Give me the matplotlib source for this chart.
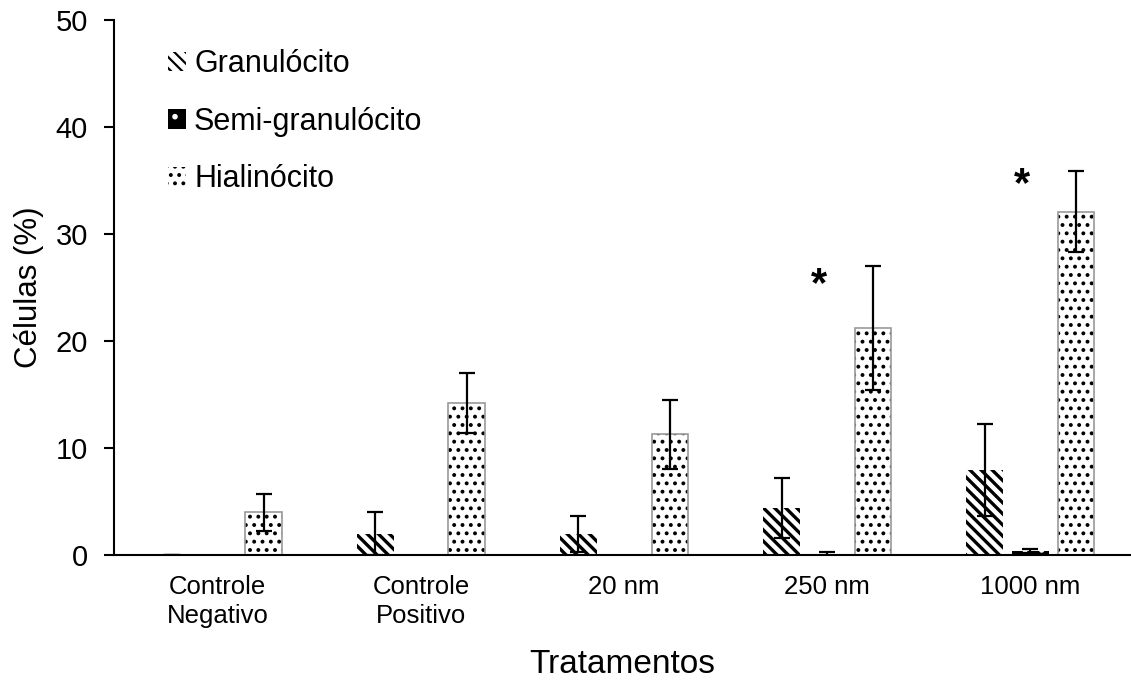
import numpy as np
import matplotlib.pyplot as plt

plt.rcParams['font.family'] = ['Liberation Sans', 'DejaVu Sans']

# Hemocyte percentages per treatment (mean and standard deviation)
tratamentos = ['Controle\nNegativo', 'Controle\nPositivo', '20 nm', '250 nm', '1000 nm']
granulocito = [0.0, 2.0, 2.0, 4.4, 8.0]
granulocito_sd = [0.0, 2.0, 1.7, 2.8, 4.3]
semi_granulocito = [0.0, 0.0, 0.0, 0.1, 0.4]
semi_granulocito_sd = [0.0, 0.0, 0.0, 0.2, 0.2]
hialinocito = [4.0, 14.2, 11.3, 21.2, 32.1]
hialinocito_sd = [1.7, 2.8, 3.2, 5.8, 3.8]
# groups marked as significant
significativo = [3, 4]
asterisco_y = [25.2, 34.6]

x = np.arange(len(tratamentos))
w = 0.18
off = 0.225

fig = plt.figure(figsize=(11.31, 6.83), dpi=100)
ax = fig.add_axes([0.101, 0.187, 0.898, 0.784])

err_kw = dict(ecolor='black', elinewidth=1.6, capsize=5.5, capthick=1.6)

# hatch line width is taken when each patch is created
plt.rcParams['hatch.linewidth'] = 2.4
b1 = ax.bar(x - off, granulocito, w, facecolor='white', edgecolor='black',
            hatch='\\\\\\', linewidth=0, label='Granulócito')
ax.errorbar(x - off, granulocito, yerr=granulocito_sd, fmt='none', **err_kw)

plt.rcParams['hatch.linewidth'] = 1.5
b2 = ax.bar(x, semi_granulocito, w, facecolor='black', edgecolor='white',
            hatch='.', linewidth=0, label='Semi-granulócito')
ax.errorbar(x[3:], semi_granulocito[3:], yerr=semi_granulocito_sd[3:], fmt='none', **err_kw)

plt.rcParams['hatch.linewidth'] = 1.6
b3 = ax.bar(x + off, hialinocito, w, facecolor='white', edgecolor='black',
            hatch='..', linewidth=0, label='Hialinócito')
ax.bar(x + off, hialinocito, w, facecolor='none', edgecolor='#999999', linewidth=1.2)
ax.errorbar(x + off, hialinocito, yerr=hialinocito_sd, fmt='none', **err_kw)

for i, yv in zip(significativo, asterisco_y):
    ax.text(x[i] - 0.04, yv, '*', ha='center', va='center', fontsize=30, fontweight='bold')

ax.set_xlim(-0.51, 4.49)
ax.set_ylim(0, 50)
ax.set_yticks([0, 10, 20, 30, 40, 50])
ax.set_xticks(x)
ax.set_xticklabels(tratamentos, fontsize=18.5, linespacing=1.3)
ax.tick_params(axis='x', length=0, pad=14)
ax.tick_params(axis='y', labelsize=21, length=7, width=1.5, direction='out', pad=12)
for s in ['top', 'right']:
    ax.spines[s].set_visible(False)
ax.spines['left'].set_linewidth(1.5)
ax.spines['bottom'].set_linewidth(1.5)

ax.set_ylabel('Células (%)', fontsize=22.5, labelpad=8)
ax.set_xlabel('Tratamentos', fontsize=24, labelpad=15)

ax.legend(handles=[b1, b2, b3], loc='upper left', bbox_to_anchor=(0.053, 0.945),
          borderaxespad=0, borderpad=0,
          frameon=False, fontsize=22, handlelength=0.6, handleheight=0.6,
          handletextpad=0.25, labelspacing=0.9)

fig.savefig('out.png', dpi=100)
